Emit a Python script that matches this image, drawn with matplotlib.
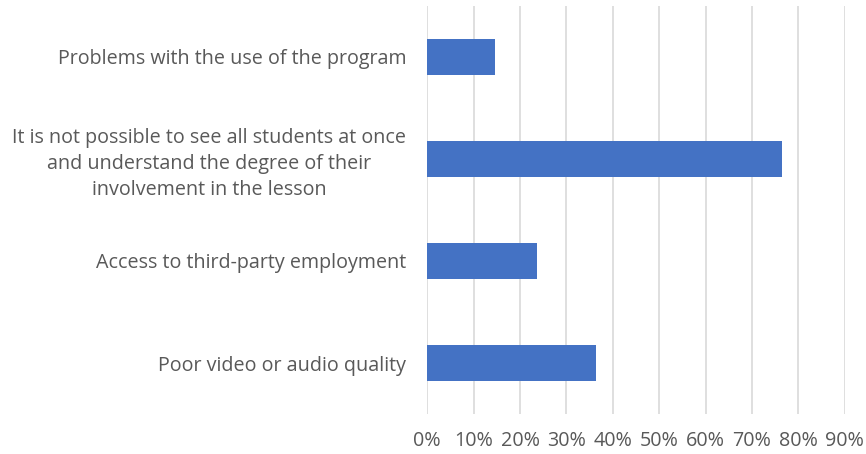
import matplotlib.pyplot as plt
from matplotlib.ticker import FuncFormatter, MultipleLocator

categories = [
    "Problems with the use of the program",
    "It is not possible to see all students at once\nand understand the degree of their\ninvolvement in the lesson",
    "Access to third-party employment",
    "Poor video or audio quality",
]
shares = [0.146, 0.764, 0.237, 0.364]

plt.rcParams['font.family'] = ['Open Sans', 'DejaVu Sans']

fig = plt.figure(figsize=(8.66, 4.54), dpi=100)
ax = fig.add_axes([0.4934, 0.0881, 0.4820, 0.8987])

ax.barh(range(len(categories)), shares, height=0.355, color='#4472c4', zorder=3)

ax.set_xlim(0, 0.9)
ax.set_ylim(len(categories) - 0.5, -0.5)
ax.xaxis.set_major_locator(MultipleLocator(0.1))
ax.xaxis.set_major_formatter(FuncFormatter(lambda v, _: f"{v * 100:.0f}%"))
ax.grid(axis='x', color='#d9d9d9', linewidth=1.2, zorder=0)

ax.set_yticks(range(len(categories)))
ax.set_yticklabels(categories, multialignment='center', linespacing=1.4)
ax.tick_params(axis='both', colors='#595959', labelsize=14.2)
ax.tick_params(axis='x', length=0, pad=12)
ax.tick_params(axis='y', length=0, pad=15)

for s in ax.spines.values():
    s.set_visible(False)

fig.savefig("out.png", dpi=100)
